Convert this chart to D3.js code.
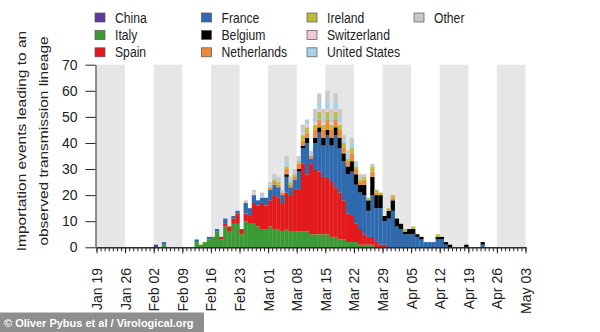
<!DOCTYPE html>
<html><head><meta charset="utf-8">
<script src="https://cdn.jsdelivr.net/npm/d3@7"></script>
<style>
body{margin:0;background:#fff}
text{font-family:"Liberation Sans",Arial,Helvetica,sans-serif}
</style>
</head><body>
<svg id="c" width="600" height="332"></svg>
<script>
// ---------- data ----------
const startDate = "2020-01-19";
const endDate = "2020-05-03";
const tickLabels = ["Jan 19","Jan 26","Feb 02","Feb 09","Feb 16","Feb 23","Mar 01","Mar 08",
  "Mar 15","Mar 22","Mar 29","Apr 05","Apr 12","Apr 19","Apr 26","May 03"];
const yTicks = [0,10,20,30,40,50,60,70];
const seriesNames = ["China","Italy","Spain","France","Belgium","Netherlands","Ireland","Switzerland","United States","Other"];
const seriesColors = ["#5e3c99","#3a9b35","#e31a1c","#2f6aae","#000000","#ee8a3c","#bcbd3a","#f4c7d4","#a6d2ec","#c9c9c9"];

// daily counts, one value per day from Jan 19 (7 values per row = one week)
const china = [
  0,0,0,0,0,0,0, 0,0,0,0,0,0,0, 1,0,0,0,0,0,0, 0,0,0,0,0,0,0, 0,0,0,0,0,0,0,
  0,0,0,0,0,0,0, 0,0,0,0,0,0,0, 0,0,0,0,0,0,0, 0,0,0,0,0,0,0, 0,0,0,0,0,0,0,
  0,0,0,0,0,0,0, 0,0,0,0,0,0,0, 0,0,0,0,0,0,0, 0,0,0,0,0,0,0, 0,0,0,0,0,0,0];
const italy = [
  0,0,0,0,0,0,0, 0,0,0,0,0,0,0, 0,0,1,0,0,0,0, 0,0,0,2,1,2,3, 4,6,3,8,6,9,9,
  5,10,9,9,8,7,7, 8,7,7,6,7,6,6, 6,6,6,5,5,5,5, 5,4,4,3,3,2,2, 2,1,1,1,1,0,0,
  0,0,0,0,0,0,0, 0,0,0,0,0,0,0, 0,0,0,0,0,0,0, 0,0,0,0,0,0,0, 0,0,0,0,0,0,0];
const spain = [
  0,0,0,0,0,0,0, 0,0,0,0,0,0,0, 0,0,0,0,0,0,0, 0,0,0,0,0,0,0, 0,0,1,1,2,2,4,
  2,3,3,8,8,10,9, 10,13,12,11,14,14,16, 16,26,22,27,25,24,22, 22,21,19,18,15,11,10, 7,6,4,3,3,2,1,
  1,0,0,0,0,0,0, 0,0,0,0,0,0,0, 0,0,0,0,0,0,0, 0,0,0,0,0,0,0, 0,0,0,0,0,0,0];
const france = [
  0,0,0,0,0,0,0, 0,0,0,0,0,0,0, 0,0,1,0,0,0,0, 0,0,0,1,0,0,1, 0,1,0,2,0,1,1,
  0,4,3,3,2,2,3, 4,4,4,3,6,3,4, 7,6,12,2,10,15,12, 16,14,20,17,15,15,17, 15,14,15,10,16,13,14,
  9,11,14,8,7,5,5, 5,4,3,2,2,2,3, 3,1,0,0,0,0,0, 0,0,0,1,0,0,0, 0,0,0,0,0,0,0];
const belgium = [
  0,0,0,0,0,0,0, 0,0,0,0,0,0,0, 0,0,0,0,0,0,0, 0,0,0,0,0,0,0, 0,0,0,0,0,0,0,
  0,0,0,0,0,0,0, 0,0,0,0,1,0,0, 1,1,2,0,2,2,3, 2,3,3,4,3,3,4, 4,3,4,4,7,5,5,
  2,3,4,3,2,1,2, 2,1,1,0,0,0,1, 1,1,1,0,0,0,1, 0,0,0,1,0,0,0, 0,0,0,0,0,0,0];
const netherlands = [
  0,0,0,0,0,0,0, 0,0,0,0,0,0,0, 0,0,0,0,0,0,0, 0,0,0,0,0,0,0, 0,0,0,0,0,0,0,
  0,0,0,0,0,0,0, 1,1,1,1,2,1,1, 2,2,2,1,3,3,3, 4,3,3,3,2,2,3, 2,1,2,0,2,1,0,
  0,0,1,0,0,0,0, 0,0,0,0,0,0,0, 0,0,0,0,0,0,0, 0,0,0,0,0,0,0, 0,0,0,0,0,0,0];
const ireland = [
  0,0,0,0,0,0,0, 0,0,0,0,0,0,0, 0,0,0,0,0,0,0, 0,0,0,0,0,0,0, 0,0,0,0,0,0,0,
  0,0,0,0,0,0,0, 0,1,1,0,1,1,1, 1,2,2,0,2,3,2, 3,2,3,2,2,1,2, 1,1,1,1,2,1,1,
  0,1,1,0,0,1,0, 1,0,0,0,0,0,1, 0,0,0,0,0,0,0, 0,0,0,0,0,0,0, 0,0,0,0,0,0,0];
const switzerland = [
  0,0,0,0,0,0,0, 0,0,0,0,0,0,0, 0,0,0,0,0,0,0, 0,0,0,0,0,0,0, 0,0,0,0,0,0,0,
  0,0,0,1,0,0,0, 0,0,0,0,0,0,0, 0,1,1,0,1,1,1, 1,1,1,1,0,0,0, 0,0,0,0,0,0,0,
  0,0,0,0,0,0,0, 0,0,0,0,0,0,0, 0,0,0,0,0,0,0, 0,0,0,0,0,0,0, 0,0,0,0,0,0,0];
const unitedStates = [
  0,0,0,0,0,0,0, 0,0,0,0,0,0,0, 0,0,0,0,0,0,0, 0,0,0,0,0,0,0, 0,0,0,0,0,0,0,
  0,0,0,0,0,1,0, 1,1,0,0,2,0,0, 1,1,1,0,2,2,2, 3,2,2,2,1,1,2, 1,0,0,0,0,0,0,
  0,0,0,0,0,0,0, 0,0,0,0,0,0,0, 0,0,0,0,0,0,0, 0,0,0,0,0,0,0, 0,0,0,0,0,0,0];
const other = [
  0,0,0,0,0,0,0, 0,0,0,0,0,0,0, 0,0,0,0,0,0,0, 0,0,0,0,0,0,0, 0,0,0,0,0,0,0,
  0,1,0,1,0,1,0, 1,1,2,1,2,2,2, 1,2,1,2,3,4,3, 4,3,4,3,2,2,2, 1,2,1,0,1,0,0,
  0,0,0,0,0,0,0, 0,0,0,0,0,0,0, 0,0,0,0,0,0,0, 0,0,0,0,0,0,0, 0,0,0,0,0,0,0];

// ---------- build ----------
const seriesValues = [china, italy, spain, france, belgium, netherlands, ireland, switzerland, unitedStates, other];
const t0 = new Date(startDate + "T00:00:00Z");
const t1 = new Date(endDate + "T00:00:00Z");
const rows = china.map((_, i) => {
  const r = { date: d3.utcDay.offset(t0, i) };
  seriesNames.forEach((n, k) => r[n] = seriesValues[k][i]);
  return r;
});

const svg = d3.select("#c");
const x = d3.scaleUtc().domain([t0, t1]).range([96.5, 525.5]);
const y = d3.scaleLinear().domain([0, 70]).range([247.3, 64.7]);
const color = d3.scaleOrdinal().domain(seriesNames).range(seriesColors);

// alternating grey week bands
const weekStarts = d3.utcDay.range(t0, t1, 7);
svg.append("g").selectAll("rect")
  .data(weekStarts.filter((d, i) => i % 2 === 0))
  .join("rect")
  .attr("x", d => x(d))
  .attr("width", d => x(d3.utcDay.offset(d, 7)) - x(d))
  .attr("y", y(70)).attr("height", y(0) - y(70))
  .attr("fill", "#e6e6e6");

// stacked bars
const stacked = d3.stack().keys(seriesNames)(rows);
svg.append("g").selectAll("g").data(stacked).join("g")
  .attr("fill", s => color(s.key))
  .selectAll("rect")
  .data(s => s.filter(d => d[1] > d[0]))
  .join("rect")
  .attr("x", d => x(d.data.date))
  .attr("width", d => x(d3.utcDay.offset(d.data.date, 1)) - x(d.data.date) + 0.2)
  .attr("y", d => y(d[1]))
  .attr("height", d => y(d[0]) - y(d[1]));

// y axis
const yAxis = svg.append("g").attr("transform", "translate(95.5,0)")
  .call(d3.axisLeft(y).tickValues(yTicks).tickSize(10).tickPadding(8).tickSizeOuter(0));
yAxis.selectAll("text").attr("font-size", 14).attr("fill", "#222")
  .style("font-family", '"Liberation Sans",Arial,sans-serif');
yAxis.selectAll("line,path").attr("stroke", "#222");

// x axis: daily minor ticks, weekly major ticks
const days = d3.utcDay.range(t0, d3.utcDay.offset(t1, 1));
const xAxisMinor = svg.append("g").attr("transform", `translate(0,${y(0)})`)
  .call(d3.axisBottom(x).tickValues(days).tickSize(4).tickFormat("").tickSizeOuter(0));
const majorDates = d3.utcDay.range(t0, d3.utcDay.offset(t1, 1), 7);
const xAxisMajor = svg.append("g").attr("transform", `translate(0,${y(0)})`)
  .call(d3.axisBottom(x).tickValues(majorDates).tickSize(6).tickFormat("").tickSizeOuter(0));
svg.selectAll(".domain, .tick line").attr("stroke", "#222");

svg.append("g").selectAll("text")
  .data(majorDates)
  .join("text")
  .attr("transform", d => `translate(${x(d) + 0.5},268) rotate(-90)`)
  .attr("text-anchor", "end")
  .attr("dy", "0.36em")
  .attr("font-size", 14)
  .attr("fill", "#222")
  .text((d, i) => tickLabels[i]);

// y axis title
const yTitle = ["Importation events leading to an", "observed transmission lineage"];
svg.append("g").selectAll("text").data(yTitle).join("text")
  .attr("transform", (d, i) => `translate(${i === 0 ? 25.5 : 48},141) scale(0.85,1) rotate(-90)`)
  .attr("text-anchor", "middle")
  .attr("font-size", 15.5)
  .attr("fill", "#222")
  .text(d => d);

// legend (column-wise, 3 rows)
const legendCols = [95, 201.5, 307, 414];
const legendRows = [17.5, 35, 52.3];
const lg = svg.append("g").selectAll("g").data(seriesNames).join("g")
  .attr("transform", (d, i) => `translate(${legendCols[Math.floor(i / 3)]},${legendRows[i % 3]})`);
lg.append("rect").attr("x", 0).attr("y", -4.5).attr("width", 10).attr("height", 9)
  .attr("fill", d => color(d)).attr("stroke", "#555").attr("stroke-width", 0.7);
lg.append("text").attr("transform", "translate(20,5) scale(0.87,1)")
  .attr("font-size", 14).attr("fill", "#222").text(d => d);

// credit
svg.append("rect").attr("x", 0).attr("y", 312.5).attr("width", 204).attr("height", 19.5).attr("fill", "#8e8e8e");
svg.append("text").attr("x", 4).attr("y", 327).attr("font-size", 11).attr("font-weight", "bold")
  .attr("fill", "#fff").text("© Oliver Pybus et al / Virological.org");
</script>
</body></html>
